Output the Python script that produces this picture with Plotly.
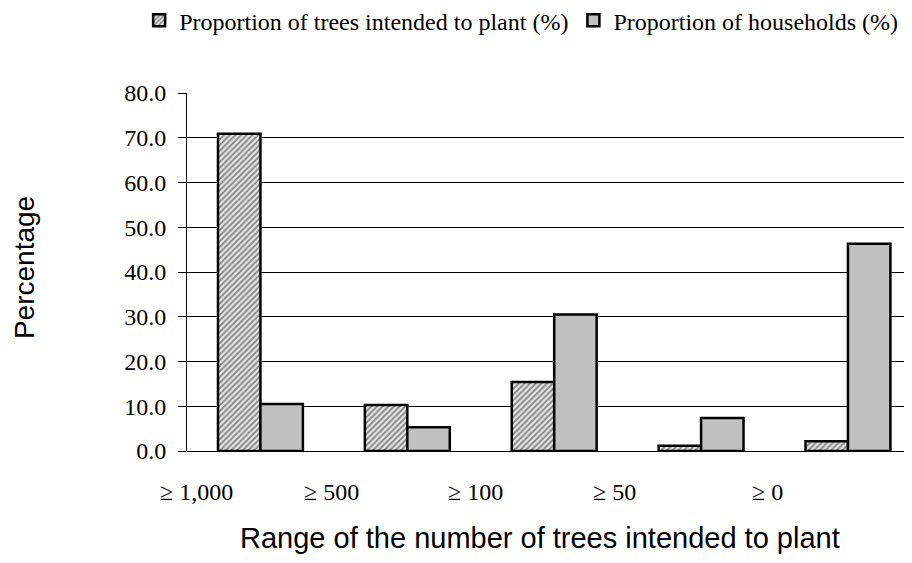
import plotly.graph_objects as go

categories = ["≥ 1,000", "≥ 500", "≥ 100", "≥ 50", "≥ 0"]
trees_pct = [70.9, 10.3, 15.4, 1.2, 2.2]
households_pct = [10.5, 5.3, 30.5, 7.4, 46.3]
y_ticks = [0, 10, 20, 30, 40, 50, 60, 70, 80]

# left edge of each category label, in category units (as placed in the original)
label_pos = [-0.70, 0.28, 1.26, 2.25, 3.33]

X_RANGE = [-0.5, 4.436]
SERIF = "Liberation Serif"
SANS = "Liberation Sans"

xs = list(range(len(categories)))

def to_paper(v):
    return (v - X_RANGE[0]) / (X_RANGE[1] - X_RANGE[0])

fig = go.Figure()
fig.add_trace(go.Bar(
    x=xs, y=trees_pct, name="Proportion of trees intended to plant (%)",
    marker=dict(color="white", line=dict(color="black", width=2.5),
                pattern=dict(shape="/", fgcolor="#202020", bgcolor="#e4e4e4",
                             size=4, solidity=0.45)),
))
fig.add_trace(go.Bar(
    x=xs, y=households_pct, name="Proportion of households (%)",
    marker=dict(color="#c0c0c0", line=dict(color="black", width=2.5)),
))

for lab, p in zip(categories, label_pos):
    fig.add_annotation(x=to_paper(p), y=-0.0726, xref="paper", yref="paper", text=lab,
                       showarrow=False, xanchor="left", yanchor="top",
                       font=dict(family=SERIF, size=24, color="black"))

fig.add_annotation(x=0.487, y=-0.243, xref="paper", yref="paper",
                   text="Range of the number of trees intended to plant", showarrow=False,
                   xanchor="center", yanchor="middle",
                   font=dict(family=SANS, size=29, color="black"))
fig.add_annotation(x=-0.2248, y=0.511, xref="paper", yref="paper", text="Percentage",
                   showarrow=False, textangle=-90, xanchor="center", yanchor="middle",
                   font=dict(family=SANS, size=28, color="black"))

fig.update_layout(
    width=904, height=547,
    margin=dict(l=179, r=0, t=85, b=104, autoexpand=False),
    paper_bgcolor="white", plot_bgcolor="white",
    barmode="group", bargap=0.422, bargroupgap=0,
    font=dict(family=SERIF, size=24, color="black"),
    showlegend=True,
    legend=dict(orientation="h", x=-0.066, y=1.265, xanchor="left", yanchor="top",
                font=dict(family=SERIF, size=24), traceorder="normal",
                itemwidth=30),
    xaxis=dict(range=X_RANGE, showticklabels=False, ticks="", showgrid=False,
               zeroline=False, showline=False, fixedrange=True),
    yaxis=dict(range=[0, 80], tickvals=y_ticks, tickformat=".1f",
               showgrid=True, gridcolor="black", gridwidth=1,
               showline=True, linecolor="black", linewidth=1,
               ticks="outside", ticklen=8, tickcolor="black",
               ticklabelstandoff=7,
               zeroline=True, zerolinecolor="black", zerolinewidth=1,
               tickfont=dict(family=SERIF, size=24)),
)

fig.write_html("out.html")
